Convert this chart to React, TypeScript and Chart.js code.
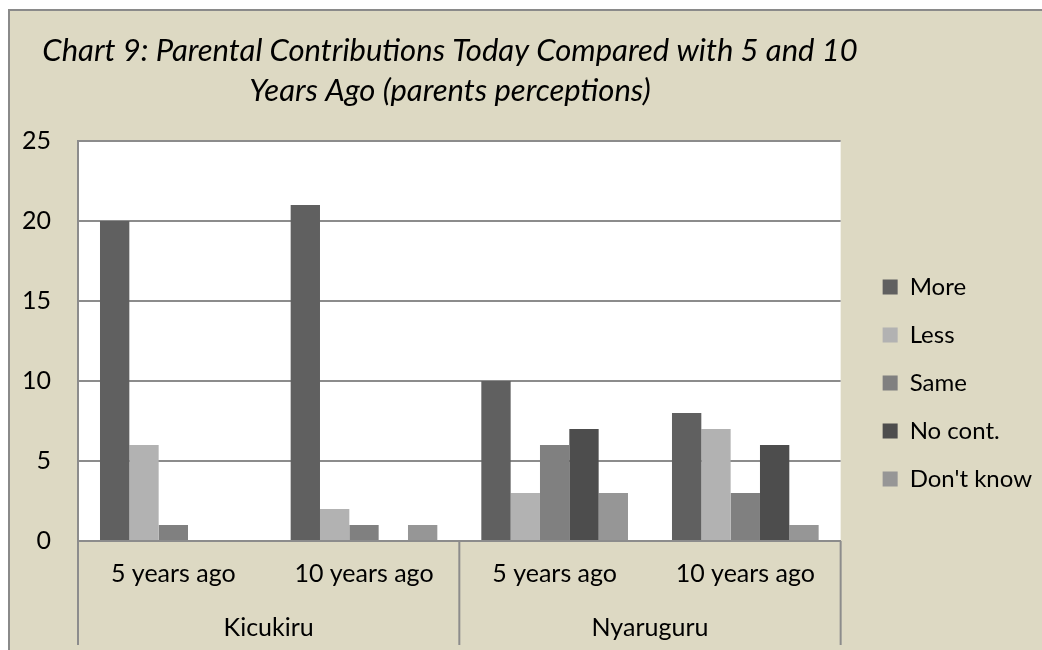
import React, { useEffect, useRef } from 'react';
import { Chart, registerables } from 'chart.js';

Chart.register(...registerables);

const TITLE_LINES = [
  'Chart 9: Parental Contributions Today Compared with 5 and 10',
  'Years Ago (parents perceptions)',
];
const PERIODS = ['5 years ago', '10 years ago', '5 years ago', '10 years ago'];
const GROUPS = ['Kicukiru', 'Nyaruguru'];
const GROUP_SIZE = 2;
const SERIES_NAMES = ['More', 'Less', 'Same', 'No cont.', "Don't know"];
const MORE = [20, 21, 10, 8];
const LESS = [6, 2, 3, 7];
const SAME = [1, 1, 6, 3];
const NO_CONT = [0, 0, 7, 6];
const DONT_KNOW = [0, 1, 3, 1];
const SERIES_VALUES = [MORE, LESS, SAME, NO_CONT, DONT_KNOW];
const COLORS = ['#606060', '#b2b2b2', '#808080', '#4d4d4d', '#969696'];
const Y_MIN = 0;
const Y_MAX = 25;
const Y_STEP = 5;

const FONT = 'Lato, "Open Sans", sans-serif';
const GRID = '#8c8c8c';
const BG = '#DDD9C3';

const decor = {
  id: 'decor',
  beforeDraw(chart: any) {
    const { ctx, chartArea: a } = chart;
    ctx.save();
    ctx.fillStyle = '#ffffff';
    ctx.fillRect(a.left, a.top, a.right - a.left, a.bottom - a.top);
    ctx.restore();
  },
  afterDraw(chart: any) {
    const { ctx, chartArea: a } = chart;
    const x = chart.scales.x;
    ctx.save();
    ctx.fillStyle = '#000';
    ctx.textAlign = 'center';
    ctx.textBaseline = 'middle';
    ctx.font = `italic 31px ${FONT}`;
    TITLE_LINES.forEach((t, i) => ctx.fillText(t, 440, 40 + i * 40));

    const bounds: number[] = [];
    for (let g = 0; g <= GROUPS.length; g++) {
      const i = g * GROUP_SIZE;
      let px: number;
      if (i === 0) px = x.left;
      else if (i >= PERIODS.length) px = x.right;
      else px = (x.getPixelForTick(i - 1) + x.getPixelForTick(i)) / 2;
      bounds.push(px);
    }
    ctx.strokeStyle = GRID;
    ctx.lineWidth = 2;
    bounds.forEach((b) => {
      ctx.beginPath();
      ctx.moveTo(b, a.bottom);
      ctx.lineTo(b, a.bottom + 104);
      ctx.stroke();
    });
    ctx.font = `25px ${FONT}`;
    GROUPS.forEach((g, i) => ctx.fillText(g, (bounds[i] + bounds[i + 1]) / 2, a.bottom + 87));
    ctx.restore();
  },
};

export default function App() {
  const ref = useRef<HTMLCanvasElement>(null);
  useEffect(() => {
    if (!ref.current) return;
    const chart = new Chart(ref.current, {
      type: 'bar',
      data: {
        labels: PERIODS,
        datasets: SERIES_NAMES.map((name, i) => ({
          label: name,
          data: SERIES_VALUES[i],
          backgroundColor: COLORS[i],
          borderWidth: 0,
          categoryPercentage: 5 / 6.5,
          barPercentage: 1,
        })),
      },
      options: {
        responsive: false,
        animation: false,
        layout: { padding: { top: 130, bottom: 25, left: 0, right: 0 } },
        plugins: {
          title: { display: false },
          tooltip: { enabled: false },
          legend: {
            position: 'right',
            align: 'center',
            maxWidth: 260,
            labels: {
              boxWidth: 15,
              boxHeight: 15,
              padding: 24,
              color: '#000',
              font: { family: FONT, size: 24 },
            },
          },
        },
        scales: {
          x: {
            grid: { display: false },
            border: { display: true, color: GRID, width: 2 },
            ticks: { color: '#000', font: { family: FONT, size: 25 }, padding: 10, maxRotation: 0 },
            afterFit: (s: any) => { s.height = 84; },
          },
          y: {
            min: Y_MIN,
            max: Y_MAX,
            ticks: { stepSize: Y_STEP, color: '#000', font: { family: FONT, size: 25 }, padding: 27 },
            grid: { color: GRID, lineWidth: 2, drawTicks: false },
            border: { display: true, color: GRID, width: 2 },
            afterFit: (s: any) => { s.width = 68; },
          },
          gap: {
            type: 'linear',
            position: 'right',
            display: true,
            grid: { display: false },
            border: { display: false },
            ticks: { display: false },
            afterFit: (s: any) => { s.width = 18; },
          },
        },
      },
      plugins: [decor],
    });
    return () => chart.destroy();
  }, []);
  return (
    <div
      style={{
        position: 'fixed',
        left: 8,
        top: 9,
        width: 1034,
        height: 641,
        boxSizing: 'border-box',
        borderTop: '2px solid #8a8a8a',
        borderLeft: '2px solid #8a8a8a',
        background: BG,
        overflow: 'hidden',
      }}
    >
      <canvas ref={ref} width={1032} height={639} style={{ display: 'block' }} />
    </div>
  );
}
